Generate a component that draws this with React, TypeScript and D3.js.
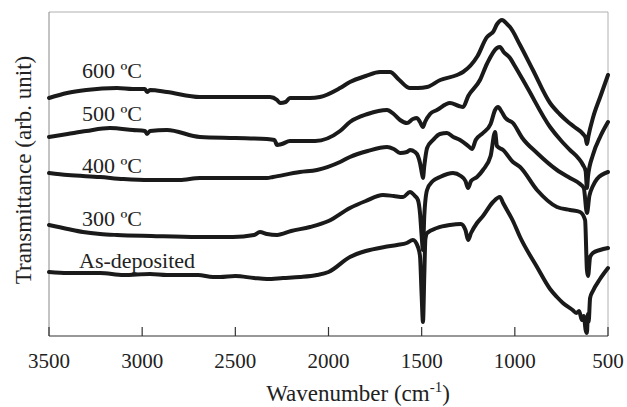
import React, { useRef, useEffect } from "react";
import { select, scaleLinear, line, curveMonotoneX } from "d3";

// wavenumber (cm-1) vs transmittance (arb. unit), curves already offset
const xTicks = [3500, 3000, 2500, 2000, 1500, 1000, 500];
const seriesNames = ["600 ºC", "500 ºC", "400 ºC", "300 ºC", "As-deposited"];

const t600 = [
  [3500, 238], [3403, 243], [3300, 246], [3135, 248], [3050, 247], [2985, 247], [2974, 244],
  [2958, 246], [2867, 244], [2690, 239], [2550, 239], [2420, 239], [2314, 239], [2276, 236],
  [2260, 233], [2230, 234], [2207, 238], [2100, 238], [2046, 239], [1938, 248], [1885, 254],
  [1800, 260], [1724, 264], [1670, 264], [1620, 256], [1563, 248], [1520, 248], [1471, 249],
  [1400, 256], [1310, 261], [1278, 264], [1200, 280], [1149, 299], [1130, 302], [1117, 304],
  [1095, 312], [1069, 316], [1042, 312], [1026, 309], [972, 291], [903, 266], [811, 233],
  [760, 222], [720, 215], [680, 209], [634, 202], [620, 198], [613, 192], [605, 200],
  [581, 218], [540, 240], [500, 261],
];
const t500 = [
  [3500, 199], [3400, 202], [3300, 205], [3173, 208], [3050, 206], [2985, 205], [2974, 202],
  [2958, 205], [2867, 206], [2690, 199], [2500, 198], [2330, 197], [2290, 196], [2276, 191],
  [2250, 192], [2207, 195], [2072, 195], [1938, 205], [1885, 214], [1790, 222], [1686, 226],
  [1650, 222], [1616, 216], [1579, 213], [1547, 217], [1525, 218], [1509, 214], [1493, 209],
  [1482, 214], [1455, 222], [1418, 226], [1348, 233], [1300, 230], [1278, 229], [1250, 240],
  [1187, 256], [1150, 272], [1096, 288], [1080, 289], [1060, 284], [1026, 278], [1000, 270],
  [935, 249], [811, 209], [750, 195], [704, 186], [660, 178], [634, 171], [620, 165],
  [613, 148], [607, 160], [581, 181], [540, 200], [500, 214],
];
const t400 = [
  [3500, 163], [3400, 161], [3226, 159], [3100, 157], [2958, 156], [2800, 156], [2690, 158],
  [2500, 158], [2330, 158], [2298, 159], [2153, 164], [2062, 166], [1938, 174], [1885, 179],
  [1790, 185], [1686, 189], [1650, 187], [1616, 183], [1579, 184], [1563, 186], [1536, 184],
  [1520, 180], [1509, 173], [1498, 162], [1493, 158], [1486, 170], [1471, 188], [1439, 196],
  [1402, 202], [1364, 203], [1330, 199], [1294, 196], [1250, 190], [1230, 187], [1210, 196],
  [1171, 203], [1130, 212], [1106, 226], [1090, 229], [1070, 224], [1050, 218], [1010, 213],
  [960, 198], [881, 183], [774, 166], [704, 158], [650, 152], [630, 148], [613, 123],
  [600, 140], [581, 150], [559, 157], [500, 164],
];
const t300 = [
  [3500, 111], [3400, 107], [3318, 104], [3226, 102], [3135, 101], [2950, 100], [2700, 99],
  [2513, 99], [2400, 101], [2368, 104], [2330, 102], [2276, 101], [2200, 105], [2099, 109],
  [2000, 115], [1885, 128], [1800, 135], [1708, 141], [1650, 140], [1600, 139], [1563, 144],
  [1536, 140], [1520, 136], [1509, 123], [1500, 100], [1493, 86], [1486, 120], [1471, 146],
  [1440, 155], [1402, 159], [1332, 163], [1290, 160], [1265, 155], [1251, 148], [1235, 155],
  [1203, 159], [1171, 166], [1130, 180], [1106, 204], [1096, 190], [1063, 186], [1010, 174],
  [972, 169], [881, 146], [774, 129], [704, 126], [650, 124], [623, 116], [613, 66],
  [607, 60], [596, 79], [581, 83], [543, 86], [500, 88],
];
const tAsDep = [
  [3500, 64], [3400, 63], [3226, 63], [3100, 61], [2958, 62], [2867, 61], [2700, 61],
  [2620, 59], [2582, 59], [2500, 60], [2400, 58], [2330, 57], [2244, 58], [2153, 59],
  [2062, 61], [2000, 64], [1885, 79], [1800, 85], [1700, 89], [1632, 91], [1580, 93],
  [1547, 96], [1520, 89], [1509, 80], [1500, 40], [1493, 14], [1486, 60], [1480, 97],
  [1471, 103], [1418, 108], [1348, 111], [1290, 112], [1265, 106], [1251, 96], [1235, 103],
  [1203, 113], [1171, 120], [1117, 134], [1080, 139], [1063, 133], [1010, 115], [972, 99],
  [881, 69], [811, 47], [774, 39], [742, 33], [690, 26], [670, 23], [655, 25], [640, 16],
  [630, 20], [620, 6], [613, 3], [608, 22], [604, 14], [596, 38], [581, 45], [543, 57],
  [500, 68],
];
const series = [t600, t500, t400, t300, tAsDep];

function App() {
  const svgRef = useRef(null);

  useEffect(() => {
    const width = 627;
    const height = 407;
    const plot = { left: 49, right: 608, top: 12, bottom: 336 };
    const labelBase = [78, 121, 173, 226, 268];
    const font = "'Liberation Serif', 'Times New Roman', serif";

    const svg = select(svgRef.current);
    svg.selectAll("*").remove();
    svg.attr("width", width).attr("height", height);

    const xScale = scaleLinear().domain([3500, 500]).range([plot.left, plot.right]);
    const yScale = scaleLinear().domain([0, 324]).range([plot.bottom, plot.top]);

    // frame
    svg.append("line")
      .attr("x1", plot.left).attr("x2", plot.right)
      .attr("y1", plot.top).attr("y2", plot.top)
      .attr("stroke", "#b0b0b0").attr("stroke-width", 1);
    svg.append("line")
      .attr("x1", plot.right).attr("x2", plot.right)
      .attr("y1", plot.top).attr("y2", plot.bottom)
      .attr("stroke", "#b0b0b0").attr("stroke-width", 1);
    svg.append("line")
      .attr("x1", plot.left).attr("x2", plot.left)
      .attr("y1", plot.top).attr("y2", plot.bottom)
      .attr("stroke", "#888").attr("stroke-width", 1);

    const lineFunc = line()
      .x((d) => xScale(d[0]))
      .y((d) => yScale(d[1]))
      .curve(curveMonotoneX);

    svg.selectAll(".spectrum")
      .data(series)
      .join("path")
      .attr("class", "spectrum")
      .attr("d", (d) => lineFunc([...d].sort((a, b) => b[0] - a[0])))
      .attr("fill", "none")
      .attr("stroke", "#1a1a1a")
      .attr("stroke-width", 4)
      .attr("stroke-linejoin", "round")
      .attr("stroke-linecap", "round");

    // bottom axis
    svg.append("line")
      .attr("x1", plot.left).attr("x2", plot.right)
      .attr("y1", plot.bottom).attr("y2", plot.bottom)
      .attr("stroke", "#333").attr("stroke-width", 1.2);
    svg.selectAll(".tick")
      .data(xTicks)
      .join("line")
      .attr("class", "tick")
      .attr("x1", (d) => xScale(d)).attr("x2", (d) => xScale(d))
      .attr("y1", plot.bottom).attr("y2", plot.bottom - 9)
      .attr("stroke", "#333").attr("stroke-width", 1.2);
    svg.selectAll(".tickLabel")
      .data(xTicks)
      .join("text")
      .attr("class", "tickLabel")
      .attr("x", (d) => xScale(d))
      .attr("y", 368)
      .attr("text-anchor", "middle")
      .attr("font-family", font)
      .attr("font-size", 21)
      .attr("fill", "#222")
      .text((d) => d);

    // series labels
    svg.selectAll(".seriesLabel")
      .data(seriesNames)
      .join("text")
      .attr("class", "seriesLabel")
      .attr("x", (d, i) => (i === 4 ? 79 : 82))
      .attr("y", (d, i) => labelBase[i])
      .attr("font-family", font)
      .attr("font-size", 22)
      .attr("fill", "#222")
      .text((d) => d);

    // axis titles
    const xTitle = svg.append("text")
      .attr("x", 358)
      .attr("y", 401)
      .attr("text-anchor", "middle")
      .attr("font-family", font)
      .attr("font-size", 23)
      .attr("fill", "#222");
    xTitle.append("tspan").text("Wavenumber (cm");
    xTitle.append("tspan").attr("dy", -9).attr("font-size", 15).text("-1");
    xTitle.append("tspan").attr("dy", 9).text(")");

    svg.append("text")
      .attr("transform", "translate(31,170) rotate(-90)")
      .attr("text-anchor", "middle")
      .attr("font-family", font)
      .attr("font-size", 23)
      .attr("fill", "#222")
      .text("Transmittance (arb. unit)");
  }, []);

  return (
    <div style={{ position: "absolute", left: 0, top: 0, background: "#fff" }}>
      <svg ref={svgRef} style={{ display: "block" }}></svg>
    </div>
  );
}

export default App;
